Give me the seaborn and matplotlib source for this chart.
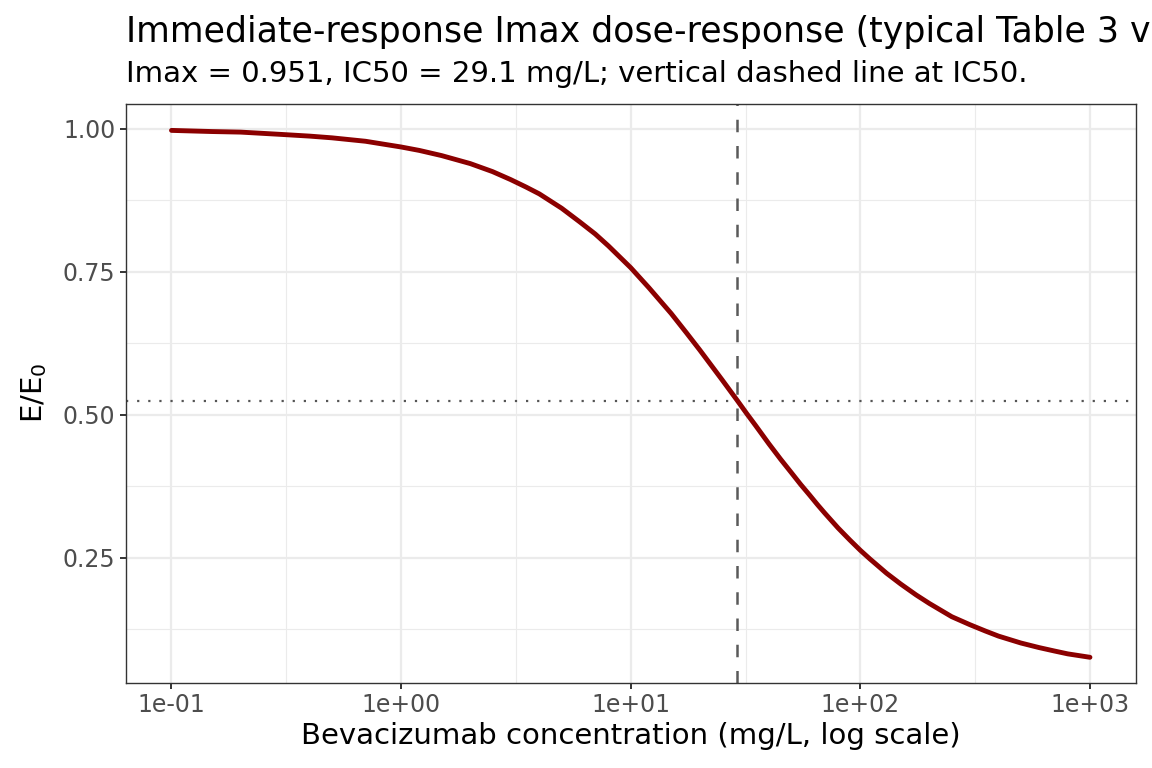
import matplotlib
matplotlib.use('Agg')
import matplotlib.pyplot as plt
import pandas as pd
import seaborn as sns

# values
conc = [0.1, 0.15, 0.2, 0.3, 0.4, 0.5, 0.7, 1, 1.2, 1.5, 2, 2.5, 3, 3.5, 4, 5, 6, 7, 8,
        10, 12, 15, 17.5, 20, 25, 29.1, 32, 35, 40, 45, 50, 55, 60, 65, 70, 80, 90,
        100, 110, 120, 130, 150, 175, 200, 250, 300, 350, 400, 500, 600, 700, 800, 1000]
effect = [0.997, 0.995, 0.994, 0.990, 0.987, 0.984, 0.978, 0.968, 0.962, 0.953, 0.939,
          0.925, 0.911, 0.898, 0.886, 0.861, 0.837, 0.816, 0.795, 0.757, 0.722, 0.677,
          0.643, 0.613, 0.561, 0.525, 0.502, 0.481, 0.449, 0.422, 0.399, 0.378, 0.360,
          0.343, 0.328, 0.302, 0.281, 0.263, 0.248, 0.235, 0.223, 0.204, 0.185, 0.170,
          0.147, 0.133, 0.122, 0.113, 0.101, 0.093, 0.087, 0.082, 0.076]
ic50 = 29.1
half_effect = 0.5245
x_breaks = [0.1, 1, 10, 100, 1000]
x_labels = ['1e-01', '1e+00', '1e+01', '1e+02', '1e+03']
y_breaks = [0.25, 0.50, 0.75, 1.00]
y_labels = ['0.25', '0.50', '0.75', '1.00']

df = pd.DataFrame({'conc': conc, 'effect': effect})

sns.set_theme(style='white')
plt.rcParams['font.family'] = ['DejaVu Sans']

fig = plt.figure(figsize=(11.52, 7.68), dpi=100)
ax = fig.add_axes([0.109, 0.111, 0.877, 0.754])

ax.set_xscale('log')
ax.set_xlim(10 ** -1.2, 10 ** 3.2)
ax.set_ylim(0.0315, 1.0437)

# grid like theme_bw
for v in x_breaks:
    ax.axvline(v, color='#EBEBEB', lw=1.6, zorder=0)
for v in [10 ** (k + 0.5) for k in range(-2, 4)]:
    ax.axvline(v, color='#EBEBEB', lw=0.8, zorder=0)
for v in y_breaks:
    ax.axhline(v, color='#EBEBEB', lw=1.6, zorder=0)
for v in [0.125, 0.375, 0.625, 0.875]:
    ax.axhline(v, color='#EBEBEB', lw=0.8, zorder=0)

ax.axhline(half_effect, color='#555555', lw=1.6, linestyle=(0, (1, 4)), zorder=1)
ax.axvline(ic50, color='#5A5A5A', lw=1.8, linestyle=(0, (5, 5.5)), zorder=1)

sns.lineplot(data=df, x='conc', y='effect', ax=ax, color='#8B0000', lw=3.5, zorder=3)

ax.set_xticks(x_breaks)
ax.set_xticklabels(x_labels)
ax.xaxis.set_minor_locator(matplotlib.ticker.NullLocator())
ax.set_yticks(y_breaks)
ax.set_yticklabels(y_labels)
ax.tick_params(axis='both', which='major', length=4.3, width=1.4, color='#333333',
               labelsize=17, labelcolor='#4D4D4D', pad=3, bottom=True, left=True)

for s in ax.spines.values():
    s.set_color('#333333')
    s.set_linewidth(1)

ax.set_xlabel('Bevacizumab concentration (mg/L, log scale)', fontsize=21, color='black', labelpad=4)
ax.set_ylabel('E/E$_0$', fontsize=21, color='black', labelpad=10)

fig.text(0.109, 0.945, 'Immediate-response Imax dose-response (typical Table 3 values)',
         fontsize=25, color='black', ha='left', va='baseline')
fig.text(0.109, 0.893, 'Imax = 0.951, IC50 = 29.1 mg/L; vertical dashed line at IC50.',
         fontsize=21, color='black', ha='left', va='baseline')

fig.savefig('out.png', dpi=100)
